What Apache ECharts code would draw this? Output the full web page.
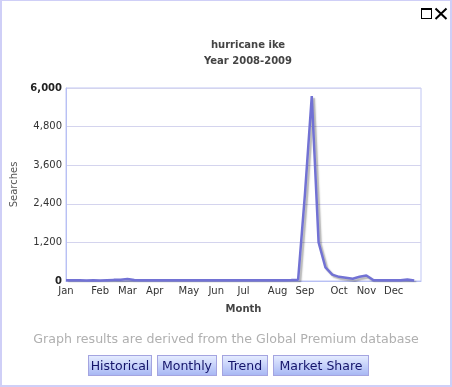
<!DOCTYPE html>
<html>
<head>
<meta charset="utf-8">
<script src="https://cdn.jsdelivr.net/npm/echarts@6/dist/echarts.min.js"></script>
<style>
  html, body { margin:0; padding:0; background:#fff; }
  #wrap { position:relative; width:452px; height:387px; box-sizing:border-box;
          border:2px solid #cfcff7; border-top:1px solid #cfcff7; overflow:hidden; }
  #chart { position:absolute; left:-2px; top:-1px; width:452px; height:387px; }
  #foot { position:absolute; left:0; width:448px; top:330px; text-align:center;
          font-family:"DejaVu Sans", sans-serif; font-size:12.6px; color:#b0b0b0; }
  #btns { position:absolute; top:354px; left:86px; font-size:0; white-space:nowrap; }
  .b { display:inline-block; box-sizing:border-box; height:21px; margin-right:5px;
       border:1px solid #a4a4e0; font-family:"DejaVu Sans", sans-serif; font-size:12.5px;
       color:#14146a; line-height:19px; text-align:center;
       background:linear-gradient(#e4ebff, #a8b8f4); }
  #icons { position:absolute; left:418px; top:6px; }
</style>
</head>
<body>
<div id="wrap">
  <div id="chart"></div>
  <div id="foot">Graph results are derived from the Global Premium database</div>
  <div id="btns">
    <span class="b" style="width:64px">Historical</span><span class="b" style="width:60px">Monthly</span><span class="b" style="width:46px">Trend</span><span class="b" style="width:96px">Market Share</span>
  </div>
  <svg id="icons" width="30" height="14" viewBox="0 0 30 14">
    <rect x="1.5" y="1.5" width="10" height="10" fill="none" stroke="#000" stroke-width="1"/>
    <rect x="1" y="1" width="11" height="2" fill="#000"/>
    <path d="M15.5 1.5 L26.5 12 M26.5 1.5 L15.5 12" stroke="#000" stroke-width="2"/>
  </svg>
</div>
<script>
// Title texts
const titleText = "hurricane ike";
const subTitleText = "Year 2008-2009";
const xAxisName = "Month";
const yAxisName = "Searches";

// Weekly x-axis: month tick labels placed at week indices
const monthNames = ["Jan","Feb","Mar","Apr","May","Jun","Jul","Aug","Sep","Oct","Nov","Dec"];
const monthWeekIdx = [0, 5, 9, 13, 18, 22, 26, 31, 35, 40, 44, 48];
const weekCount = 53;

// Weekly search values
const searches = [
  20, 25, 20, 15, 20, 15, 25, 35, 40, 60,
  30, 25, 20, 25, 20, 20, 25, 20, 20, 25,
  20, 20, 25, 20, 20, 25, 20, 20, 25, 20,
  20, 25, 25, 30, 40, 2700, 5750, 1200, 420, 200,
  130, 100, 70, 130, 170, 30, 20, 25, 20, 25,
  50, 15
];

// Y axis ticks
const yMin = 0, yMax = 6000, yStep = 1200;

const categories = [];
for (let i = 0; i < weekCount; i++) {
  const k = monthWeekIdx.indexOf(i);
  categories.push(k >= 0 ? monthNames[k] : "");
}

const chart = echarts.init(document.getElementById('chart'), null, {renderer:'canvas'});
chart.setOption({
  animation: false,
  title: [
    { text: titleText, left: 243, top: 35, textAlign: 'center',
      textStyle: { fontFamily: 'DejaVu Sans', fontSize: 10, fontWeight: 'bold', color: '#444' } },
    { text: subTitleText, left: 243, top: 51, textAlign: 'center',
      textStyle: { fontFamily: 'DejaVu Sans', fontSize: 10, fontWeight: 'bold', color: '#444' } }
  ],
  grid: { left: 66, right: 31, top: 88, bottom: 106, show: true,
          borderColor: '#c0c6f4', borderWidth: 1, backgroundColor: 'transparent' },
  xAxis: {
    type: 'category', data: categories, boundaryGap: false,
    name: xAxisName, nameLocation: 'middle', nameGap: 23,
    nameTextStyle: { fontFamily: 'DejaVu Sans', fontSize: 10, fontWeight: 'bold', color: '#444' },
    axisLine: { lineStyle: { color: '#b8c0f4' } },
    axisTick: { show: false },
    axisLabel: { interval: 0, margin: 5, fontFamily: 'DejaVu Sans', fontSize: 10, color: '#333' },
    splitLine: { show: false }
  },
  yAxis: {
    type: 'value', min: yMin, max: yMax, interval: yStep,
    name: yAxisName, nameLocation: 'middle', nameGap: 45, nameRotate: 90,
    nameTextStyle: { fontFamily: 'DejaVu Sans', fontSize: 10, color: '#555' },
    axisLine: { show: true, lineStyle: { color: '#b8c0f4' } },
    axisTick: { show: false },
    axisLabel: {
      margin: 4, fontFamily: 'DejaVu Sans', fontSize: 10, color: '#333',
      formatter: function (v) {
        const s = v.toLocaleString('en-US');
        return (v === yMin || v === yMax) ? '{b|' + s + '}' : s;
      },
      rich: { b: { fontFamily: 'DejaVu Sans', fontSize: 10, fontWeight: 'bold', color: '#222' } }
    },
    splitLine: { lineStyle: { color: '#d4d4ee', width: 1 } }
  },
  series: [{
    type: 'line', data: searches, symbol: 'none', smooth: false,
    lineStyle: { color: '#7272d4', width: 2.5,
                 shadowColor: 'rgba(0,0,0,0.3)', shadowBlur: 1.5, shadowOffsetX: 2, shadowOffsetY: 2 },
    itemStyle: { color: '#7272d4' }
  }]
});
</script>
</body>
</html>
